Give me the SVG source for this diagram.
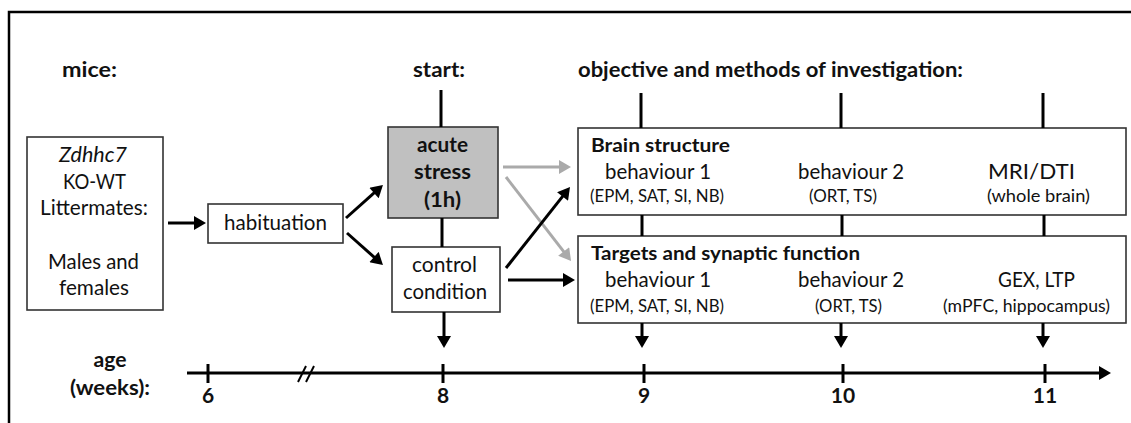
<svg xmlns="http://www.w3.org/2000/svg" width="1131" height="423" viewBox="0 0 1131 423">
<defs>
<style>
text{font-family:Lato,"Open Sans","Liberation Sans",sans-serif;fill:#111;}
.t{font-size:21px;font-weight:bold;}
.b{font-size:20.5px;text-anchor:middle;}
.s{font-size:16.5px;text-anchor:middle;}
.h{font-size:19px;font-weight:bold;}
.bb{font-size:21px;font-weight:bold;text-anchor:middle;}
.box{fill:#fff;stroke:#333;stroke-width:1.6;}
.ln{stroke:#000;stroke-width:3;fill:none;}
.gl{stroke:#aaa;stroke-width:3;fill:none;}
</style>
<marker id="ah" markerUnits="userSpaceOnUse" markerWidth="14" markerHeight="14" refX="2" refY="7" orient="auto" viewBox="0 0 12 14">
<path d="M0,0 L12,7 L0,14 z" fill="#000"/>
</marker>
<marker id="ahg" markerUnits="userSpaceOnUse" markerWidth="14" markerHeight="14" refX="2" refY="7" orient="auto" viewBox="0 0 12 14">
<path d="M0,0 L12,7 L0,14 z" fill="#aaa"/>
</marker>
</defs>
<rect x="0" y="0" width="1131" height="423" fill="#fff"/>
<rect x="9" y="12" width="1140" height="440" fill="none" stroke="#000" stroke-width="2.5"/>

<g id="titles">
<text class="t" x="62" y="77" textLength="55" lengthAdjust="spacingAndGlyphs">mice:</text>
<text class="t" x="413" y="77" textLength="52" lengthAdjust="spacingAndGlyphs">start:</text>
<text class="t" x="578" y="77" textLength="385" lengthAdjust="spacingAndGlyphs">objective and  methods  of  investigation:</text>
</g>

<g id="mice">
<rect class="box" x="27" y="137" width="136" height="173"/>
<text class="b" x="93" y="162" font-style="italic" textLength="68" lengthAdjust="spacingAndGlyphs">Zdhhc7</text>
<text class="b" x="94.5" y="189" textLength="63" lengthAdjust="spacingAndGlyphs">KO-WT</text>
<text class="b" x="94" y="215" textLength="108" lengthAdjust="spacingAndGlyphs">Littermates:</text>
<text class="b" x="93.5" y="269" textLength="91" lengthAdjust="spacingAndGlyphs">Males and</text>
<text class="b" x="94" y="295" textLength="70" lengthAdjust="spacingAndGlyphs">females</text>
</g>

<g id="habituation">
<rect class="box" x="208" y="204" width="135" height="39"/>
<text class="b" x="275.5" y="230" textLength="103" lengthAdjust="spacingAndGlyphs">habituation</text>
</g>

<g id="acute-stress">
<rect x="388" y="127" width="110" height="91" fill="#c0c0c0" stroke="#333" stroke-width="1.6"/>
<text class="bb" x="442.5" y="152" textLength="51" lengthAdjust="spacingAndGlyphs">acute</text>
<text class="bb" x="442.5" y="179" textLength="57" lengthAdjust="spacingAndGlyphs">stress</text>
<text class="bb" x="442.5" y="207" textLength="37" lengthAdjust="spacingAndGlyphs">(1h)</text>
</g>

<g id="control-condition">
<rect class="box" x="392" y="247" width="108" height="65"/>
<text class="b" x="444.5" y="272" textLength="65" lengthAdjust="spacingAndGlyphs">control</text>
<text class="b" x="445" y="299" textLength="84" lengthAdjust="spacingAndGlyphs">condition</text>
</g>

<g id="brain-structure">
<rect class="box" x="578" y="128" width="548" height="87"/>
<text class="h" x="591" y="152" textLength="139" lengthAdjust="spacingAndGlyphs">Brain structure</text>
<text class="b" x="658" y="179" textLength="106" lengthAdjust="spacingAndGlyphs">behaviour 1</text>
<text class="s" x="657" y="202" textLength="134" lengthAdjust="spacingAndGlyphs">(EPM, SAT, SI, NB)</text>
<text class="b" x="851" y="179" textLength="106" lengthAdjust="spacingAndGlyphs">behaviour 2</text>
<text class="s" x="843" y="202" textLength="68" lengthAdjust="spacingAndGlyphs">(ORT, TS)</text>
<text class="b" x="1031.5" y="179" textLength="87" lengthAdjust="spacingAndGlyphs">MRI/DTI</text>
<text class="s" x="1038.5" y="202" textLength="103" lengthAdjust="spacingAndGlyphs">(whole brain)</text>
</g>

<g id="targets-synaptic">
<rect class="box" x="578" y="236" width="548" height="87"/>
<text class="h" x="591" y="260" textLength="269" lengthAdjust="spacingAndGlyphs">Targets and synaptic function</text>
<text class="b" x="658" y="287" textLength="106" lengthAdjust="spacingAndGlyphs">behaviour 1</text>
<text class="s" x="657" y="312" textLength="134" lengthAdjust="spacingAndGlyphs">(EPM, SAT, SI, NB)</text>
<text class="b" x="851" y="287" textLength="106" lengthAdjust="spacingAndGlyphs">behaviour 2</text>
<text class="s" x="848.5" y="312" textLength="67" lengthAdjust="spacingAndGlyphs">(ORT, TS)</text>
<text class="b" x="1036.5" y="287" textLength="77" lengthAdjust="spacingAndGlyphs">GEX, LTP</text>
<text class="s" x="1026.5" y="312" textLength="167" lengthAdjust="spacingAndGlyphs">(mPFC, hippocampus)</text>
</g>

<g id="timeline">
<text class="bb" x="110" y="367" textLength="33" lengthAdjust="spacingAndGlyphs">age</text>
<text class="bb" x="110" y="395" textLength="80" lengthAdjust="spacingAndGlyphs">(weeks):</text>
<line class="ln" x1="187" y1="373" x2="1101" y2="373" stroke-width="3.5" marker-end="url(#ah)"/>
<g class="ln">
<line x1="208" y1="364" x2="208" y2="383"/>
<line x1="443" y1="364" x2="443" y2="383"/>
<line x1="644" y1="364" x2="644" y2="383"/>
<line x1="843" y1="364" x2="843" y2="383"/>
<line x1="1045" y1="364" x2="1045" y2="383"/>
</g>
<line x1="298" y1="382" x2="306" y2="366" stroke="#000" stroke-width="2"/>
<line x1="306" y1="382" x2="314" y2="366" stroke="#000" stroke-width="2"/>
<text class="bb" x="208" y="403">6</text>
<text class="bb" x="443" y="403">8</text>
<text class="bb" x="644" y="403">9</text>
<text class="bb" x="843" y="403">10</text>
<text class="bb" x="1045" y="403">11</text>
</g>

<g id="connectors">
<line class="ln" x1="168" y1="223" x2="196" y2="223" marker-end="url(#ah)"/>
<line class="ln" x1="346" y1="218" x2="375.5" y2="191.7" marker-end="url(#ah)"/>
<line class="ln" x1="347" y1="233" x2="375.5" y2="258.4" marker-end="url(#ah)"/>
<line class="ln" x1="441" y1="90" x2="441" y2="127"/>
<line class="ln" x1="442" y1="218" x2="442" y2="247"/>
<line class="ln" x1="444" y1="312" x2="444" y2="338" marker-end="url(#ah)"/>
<line class="gl" x1="503" y1="167" x2="561" y2="167" marker-end="url(#ahg)"/>
<line class="gl" x1="506" y1="177" x2="564.9" y2="253.1" marker-end="url(#ahg)"/>
<line class="ln" x1="506" y1="268" x2="563.8" y2="194.9" marker-end="url(#ah)"/>
<line class="ln" x1="508" y1="280" x2="565" y2="280" marker-end="url(#ah)"/>
<line class="ln" x1="641" y1="93" x2="641" y2="128"/>
<line class="ln" x1="841" y1="93" x2="841" y2="128"/>
<line class="ln" x1="1043" y1="93" x2="1043" y2="128"/>
<line class="ln" x1="642" y1="215" x2="642" y2="236"/>
<line class="ln" x1="842" y1="215" x2="842" y2="236"/>
<line class="ln" x1="1044" y1="215" x2="1044" y2="236"/>
<line class="ln" x1="642" y1="323" x2="642" y2="338" marker-end="url(#ah)"/>
<line class="ln" x1="841" y1="323" x2="841" y2="338" marker-end="url(#ah)"/>
<line class="ln" x1="1043" y1="323" x2="1043" y2="338" marker-end="url(#ah)"/>
</g>
</svg>
